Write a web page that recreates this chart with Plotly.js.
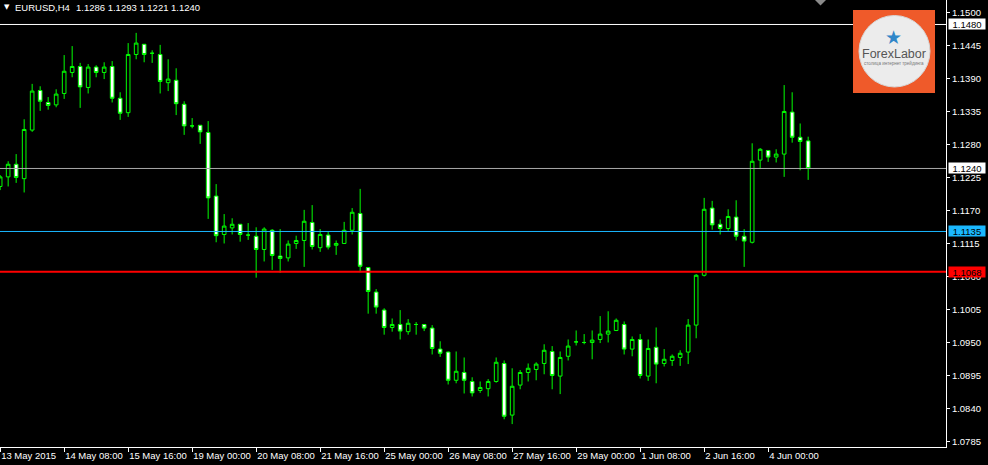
<!DOCTYPE html>
<html>
<head>
<meta charset="utf-8">
<script src="https://cdn.plot.ly/plotly-3.0.1.min.js"></script>
<style>
html,body{margin:0;padding:0;background:#000;}
#chart{width:988px;height:465px;}
</style>
</head>
<body>
<div id="chart"></div>
<script>
// ---- data (EURUSD H4, bar index -1 = 13 May 2015 00:00) ----
const symbol = "EURUSD,H4";
const firstIndex = -1;
const opens = [1.1210,1.1226,1.1247,1.1223,1.1304,1.1370,1.1350,1.1346,1.1365,1.1400,
1.1410,1.1375,1.1409,1.1400,1.1410,1.1357,1.1333,1.1430,1.1447,1.1432,
1.1430,1.1383,1.1387,1.1347,1.1311,1.1312,1.1300,1.1194,1.1130,1.1141,
1.1147,1.1129,1.1127,1.1105,1.1137,1.1094,1.1091,1.1115,1.1120,1.1150,
1.1108,1.1129,1.1112,1.1115,1.1137,1.1165,1.1075,1.1034,1.1004,1.0975,
1.0980,1.0968,1.0980,1.0980,1.0974,1.0939,1.0934,1.0887,1.0900,1.0885,
1.0870,1.0873,1.0885,1.0915,1.0829,1.0879,1.0900,1.0905,1.0915,1.0935,
1.0894,1.0927,1.0951,1.0950,1.0950,1.0955,1.0964,1.0970,1.0980,1.0939,
1.0955,1.0894,1.0942,1.0915,1.0920,1.0925,1.0934,1.0979,1.1062,1.1174,
1.1147,1.1140,1.1159,1.1127,1.1117,1.1254,1.1270,1.1259,1.1264,1.1334,
1.1292,1.1286];
const highs = [1.1229,1.1252,1.1264,1.1322,1.1381,1.1377,1.1359,1.1372,1.1429,1.1444,
1.1416,1.1414,1.1412,1.1417,1.1419,1.1367,1.1449,1.1466,1.1447,1.1437,
1.1446,1.1422,1.1407,1.1352,1.1324,1.1312,1.1319,1.1214,1.1164,1.1157,
1.1147,1.1149,1.1142,1.1142,1.1139,1.1139,1.1120,1.1128,1.1171,1.1179,
1.1139,1.1135,1.1120,1.1151,1.1174,1.1206,1.1075,1.1039,1.1007,1.0990,
1.1004,1.0989,1.0984,1.0980,1.0979,1.0952,1.0935,1.0935,1.0925,1.0892,
1.0885,1.0889,1.0925,1.0920,1.0907,1.0904,1.0915,1.0917,1.0947,1.0944,
1.0935,1.0955,1.0970,1.0964,1.0970,1.0994,1.1002,1.0990,1.0985,1.0960,
1.0964,1.0955,1.0975,1.0939,1.0930,1.0937,1.0989,1.1064,1.1191,1.1186,
1.1155,1.1172,1.1187,1.1139,1.1282,1.1274,1.1270,1.1272,1.1379,1.1367,
1.1315,1.1293];
const lows = [1.1204,1.1210,1.1216,1.1200,1.1301,1.1336,1.1338,1.1342,1.1356,1.1392,
1.1341,1.1365,1.1392,1.1389,1.1350,1.1321,1.1326,1.1422,1.1417,1.1416,
1.1365,1.1369,1.1329,1.1296,1.1307,1.1281,1.1156,1.1117,1.1115,1.1130,
1.1118,1.1121,1.1058,1.1085,1.1071,1.1066,1.1085,1.1106,1.1076,1.1105,
1.1101,1.1105,1.1096,1.1115,1.1130,1.1067,1.0998,1.0998,1.0963,1.0968,
1.0955,1.0963,1.0963,1.0969,1.0930,1.0926,1.0880,1.0882,1.0865,1.0860,
1.0866,1.0860,1.0883,1.0822,1.0814,1.0872,1.0885,1.0887,1.0897,1.0872,
1.0864,1.0920,1.0945,1.0947,1.0922,1.0949,1.0950,1.0969,1.0930,1.0927,
1.0890,1.0886,1.0882,1.0910,1.0911,1.0911,1.0914,1.0957,1.1060,1.1138,
1.1130,1.1136,1.1120,1.1076,1.1115,1.1239,1.1251,1.1250,1.1226,1.1283,
1.1237,1.1221];
const closes = [1.1226,1.1247,1.1225,1.1305,1.1369,1.1352,1.1345,1.1364,1.1402,1.1410,
1.1376,1.1409,1.1400,1.1409,1.1357,1.1332,1.1430,1.1449,1.1430,1.1432,
1.1385,1.1389,1.1348,1.1311,1.1311,1.1301,1.1191,1.1128,1.1144,1.1147,
1.1130,1.1129,1.1105,1.1139,1.1095,1.1090,1.1114,1.1120,1.1152,1.1110,
1.1130,1.1109,1.1115,1.1137,1.1167,1.1077,1.1035,1.1009,1.0975,1.0980,
1.0969,1.0982,1.0980,1.0974,1.0940,1.0932,1.0887,1.0902,1.0887,1.0866,
1.0875,1.0885,1.0917,1.0827,1.0877,1.0900,1.0907,1.0914,1.0937,1.0895,
1.0925,1.0944,1.0951,1.0950,1.0954,1.0964,1.0969,1.0987,1.0939,1.0955,
1.0895,1.0940,1.0914,1.0922,1.0927,1.0932,1.0979,1.1062,1.1172,1.1146,
1.1140,1.1160,1.1127,1.1119,1.1252,1.1272,1.1259,1.1264,1.1335,1.1292,
1.1285,1.1240];

const xTickIndex = [-1,7,15,23,31,39,47,55,63,71,79,87,95];
const xTickText = ["13 May 2015","14 May 08:00","15 May 16:00","19 May 00:00","20 May 08:00",
"21 May 16:00","25 May 00:00","26 May 08:00","27 May 16:00","29 May 00:00",
"1 Jun 08:00","2 Jun 16:00","4 Jun 00:00"];
const yTickValues = [1.1500,1.1445,1.1390,1.1335,1.1280,1.1225,1.1170,1.1115,1.1060,
1.1005,1.0950,1.0895,1.0840,1.0785];

const levelPrices = [1.1480, 1.1135, 1.1068];
const levelColors = ["#ffffff", "#1ab8ff", "#ff0000"];
const levelWidths = [1, 1, 2];
const bidColor = "#a8a8a8";

// ---- build ----
const x = opens.map((_, k) => firstIndex + k);
const last = opens.length - 1;
const fmt = v => v.toFixed(4);
const FONT = "Liberation Sans, Arial, sans-serif";

const PW = 946, PH = 447; // plot area in px
const px = v => v / PW;
const py = v => 1 - v / PH;

const traces = [];
const annotations = [];
const shapes = [];

// horizontal levels as line traces
const allLevels = levelPrices.map((p, k) => ({p: p, c: levelColors[k], w: levelWidths[k], bg: levelColors[k]}));
allLevels.push({p: closes[last], c: bidColor, w: 1, bg: "#ffffff"});
allLevels.forEach(l => {
  traces.push({type: "scatter", mode: "lines", x: [-2, 120], y: [l.p, l.p],
    line: {color: l.c, width: l.w}, hoverinfo: "none", showlegend: false});
  annotations.push({xref: "paper", yref: "y", x: 1, y: l.p, xanchor: "left", yanchor: "middle",
    xshift: 2, text: fmt(l.p), showarrow: false, bgcolor: l.bg, width: 36, height: 10,
    borderpad: 0, font: {family: FONT, size: 9.5, color: "#000000"}});
});

traces.push({
  type: "candlestick",
  x: x, open: opens, high: highs, low: lows, close: closes,
  increasing: {line: {color: "#00ff00", width: 1}, fillcolor: "#000000"},
  decreasing: {line: {color: "#00ff00", width: 1}, fillcolor: "#ffffff"},
  whiskerwidth: 0,
  hoverinfo: "none",
  showlegend: false
});

// header
annotations.push({xref: "paper", yref: "paper", x: px(2), y: py(7), xanchor: "left", yanchor: "middle",
  text: "▼", showarrow: false, font: {family: "DejaVu Sans", size: 7, color: "#ffffff"}});
annotations.push({xref: "paper", yref: "paper", x: px(13), y: py(7.5), xanchor: "left", yanchor: "middle",
  text: symbol, showarrow: false, font: {family: FONT, size: 9.5, color: "#ffffff"}});
annotations.push({xref: "paper", yref: "paper", x: px(74), y: py(7.5), xanchor: "left", yanchor: "middle",
  text: [opens[last], highs[last], lows[last], closes[last]].map(fmt).join("&nbsp;"),
  showarrow: false, font: {family: FONT, size: 9.5, color: "#ffffff"}});

// chart-shift marker
shapes.push({type: "path", xref: "paper", yref: "paper",
  path: `M ${px(814)} ${py(-1)} L ${px(827)} ${py(-1)} L ${px(820.5)} ${py(5.5)} Z`,
  fillcolor: "#8a8a8a", line: {width: 0}});

// logo
shapes.push({type: "rect", xref: "paper", yref: "paper", x0: px(853), x1: px(935), y0: py(10), y1: py(93),
  fillcolor: "#ef5a2a", line: {width: 0}});
shapes.push({type: "circle", xref: "paper", yref: "paper", x0: px(859), x1: px(930), y0: py(15.5), y1: py(87),
  fillcolor: "#ececec", line: {color: "#d6d6d6", width: 1}});
annotations.push({xref: "paper", yref: "paper", x: px(893), y: py(37), xanchor: "center", yanchor: "middle",
  text: "★", showarrow: false, font: {family: "DejaVu Sans", size: 19, color: "#2f86c8"}});
annotations.push({xref: "paper", yref: "paper", x: px(893.5), y: py(54), xanchor: "center", yanchor: "middle",
  text: "ForexLabor", showarrow: false, font: {family: FONT, size: 12.5, color: "#555555"}});
annotations.push({xref: "paper", yref: "paper", x: px(893.5), y: py(62.5), xanchor: "center", yanchor: "middle",
  text: "столица интернет трейдинга", showarrow: false, font: {family: FONT, size: 4.5, color: "#777777"}});

const layout = {
  width: 988, height: 465,
  paper_bgcolor: "#000000", plot_bgcolor: "#000000",
  margin: {l: 0, r: 42, t: 0, b: 18, pad: 0},
  boxgap: 0.35,
  showlegend: false,
  xaxis: {
    range: [-1.02, 117.23], showgrid: false, zeroline: false,
    showline: true, linecolor: "#ffffff", linewidth: 1,
    ticks: "outside", ticklen: 4, tickcolor: "#ffffff", tickwidth: 1,
    tickmode: "array", tickvals: xTickIndex, ticktext: xTickText,
    tickangle: 0, ticklabelposition: "outside right",
    tickfont: {family: FONT, size: 9.5, color: "#ffffff"},
    rangeslider: {visible: false}, fixedrange: true
  },
  yaxis: {
    side: "right", range: [1.07758, 1.15208], showgrid: false, zeroline: false,
    showline: true, linecolor: "#ffffff", linewidth: 1,
    ticks: "outside", ticklen: 3, tickcolor: "#ffffff", tickwidth: 1,
    tickmode: "array", tickvals: yTickValues, ticktext: yTickValues.map(fmt),
    tickfont: {family: FONT, size: 9.5, color: "#ffffff"},
    fixedrange: true
  },
  shapes: shapes,
  annotations: annotations
};

Plotly.newPlot("chart", traces, layout, {displayModeBar: false, staticPlot: true});
</script>
</body>
</html>
